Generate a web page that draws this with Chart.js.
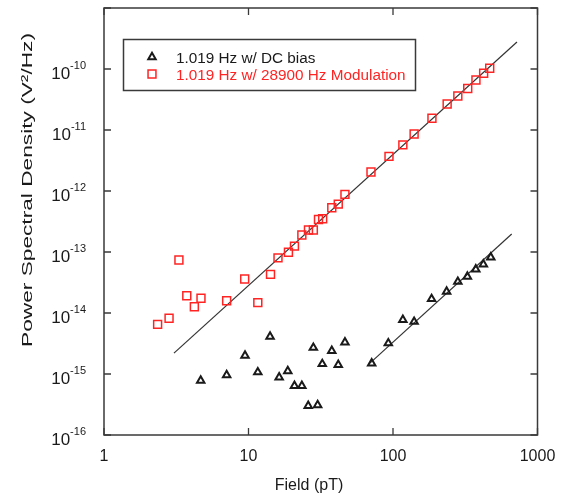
<!DOCTYPE html>
<html>
<head>
<meta charset="utf-8">
<script src="https://cdn.jsdelivr.net/npm/chart.js@4"></script>
<style>
  html, body { margin: 0; padding: 0; background: #fff; }
  #wrap { width: 564px; height: 496px; }
</style>
</head>
<body>
<div id="wrap"><canvas id="psdChart" width="564" height="496"></canvas></div>
<script>
// Field (pT) vs power spectral density (V^2/Hz)
const dcField = [4.67, 7.06, 9.46, 11.6, 14.1, 16.3, 18.7, 20.8, 23.4, 25.9, 28.1, 30.1, 32.4, 37.7, 41.8, 46.5,
  71.2, 92.8, 117, 140, 185, 235, 281, 327, 374, 422, 475];
const dcPsd = [7.8e-16, 9.6e-16, 2.0e-15, 1.07e-15, 4.1e-15, 8.8e-16, 1.12e-15, 6.4e-16, 6.4e-16, 3.0e-16, 2.7e-15, 3.1e-16, 1.46e-15, 2.4e-15, 1.41e-15, 3.3e-15,
  1.5e-15, 3.2e-15, 7.7e-15, 7.2e-15, 1.7e-14, 2.24e-14, 3.26e-14, 3.94e-14, 5.2e-14, 6.3e-14, 8.2e-14];

const modField = [2.35, 2.82, 3.30, 3.74, 4.22, 4.69, 7.06, 9.41, 11.6, 14.2, 16.0, 18.9, 20.8, 23.4, 26.0, 28.1,
  30.5, 32.6, 37.7, 41.8, 46.5, 70.4, 93.8, 117, 140, 186, 237, 281, 329, 375, 424, 467];
const modPsd = [6.5e-15, 8.2e-15, 7.4e-14, 1.92e-14, 1.27e-14, 1.74e-14, 1.59e-14, 3.6e-14, 1.48e-14, 4.3e-14, 8.0e-14, 9.9e-14, 1.25e-13, 1.9e-13, 2.3e-13, 2.3e-13,
  3.4e-13, 3.5e-13, 5.3e-13, 6.1e-13, 8.8e-13, 2.05e-12, 3.7e-12, 5.7e-12, 8.6e-12, 1.56e-11, 2.67e-11, 3.6e-11, 4.8e-11, 6.6e-11, 8.5e-11, 1.03e-10];

// fitted power-law lines (end points)
const modFitField = [3.05, 721];
const modFitPsd = [2.2e-15, 2.77e-10];
const dcFitField = [69.3, 663];
const dcFitPsd = [1.51e-15, 1.97e-13];

// ticks
const xTicks = [1, 10, 100, 1000];
const yTicks = [1e-16, 1e-15, 1e-14, 1e-13, 1e-12, 1e-11, 1e-10, 1e-9];
const yTickExps = ['-16', '-15', '-14', '-13', '-12', '-11', '-10'];

const FONT = '"Liberation Sans", Arial, sans-serif';
const RED = '#ff2424';
const INK = '#1a1a1a';
const FRAME = '#3a3a3a';

const toPts = (xs, ys) => xs.map((x, i) => ({ x: x, y: ys[i] }));

// Frame, inward ticks, tick labels, titles and legend
const decorations = {
  id: 'decorations',
  afterDraw(chart) {
    const ctx = chart.ctx;
    const a = chart.chartArea;
    const xs = chart.scales.x, ys = chart.scales.y;
    ctx.save();
    ctx.strokeStyle = FRAME;
    ctx.lineWidth = 1.5;
    ctx.strokeRect(a.left, a.top, a.right - a.left, a.bottom - a.top);

    // inward ticks on all four sides
    ctx.lineWidth = 1.3;
    ctx.beginPath();
    xTicks.forEach(v => {
      const px = xs.getPixelForValue(v);
      ctx.moveTo(px, a.bottom); ctx.lineTo(px, a.bottom - 7);
      ctx.moveTo(px, a.top); ctx.lineTo(px, a.top + 7);
    });
    yTicks.forEach(v => {
      const py = ys.getPixelForValue(v);
      ctx.moveTo(a.left, py); ctx.lineTo(a.left + 7, py);
      ctx.moveTo(a.right, py); ctx.lineTo(a.right - 7, py);
    });
    ctx.stroke();

    // x tick labels
    ctx.fillStyle = INK;
    ctx.font = '16px ' + FONT;
    ctx.textAlign = 'center';
    ctx.textBaseline = 'alphabetic';
    xTicks.forEach(v => {
      ctx.fillText(String(v), xs.getPixelForValue(v), 461);
    });

    // y tick labels 10^n
    yTickExps.forEach((ex, i) => {
      const py = ys.getPixelForValue(yTicks[i]);
      ctx.font = '11px ' + FONT;
      const we = ctx.measureText(ex).width;
      ctx.textAlign = 'left';
      ctx.fillText(ex, 86 - we, py - 0.5);
      ctx.font = '17px ' + FONT;
      ctx.textAlign = 'right';
      ctx.fillText('10', 86 - we, py + 10);
    });

    // axis titles
    ctx.font = '16px ' + FONT;
    ctx.textAlign = 'center';
    ctx.fillText('Field (pT)', 309, 490);

    ctx.save();
    ctx.translate(32, 190);
    ctx.rotate(-Math.PI / 2);
    ctx.font = '15.5px ' + FONT;
    const title = 'Power Spectral Density (V\u00B2/Hz)';
    const tw = ctx.measureText(title).width;
    ctx.scale(314 / tw, 1);
    ctx.fillText(title, 0, 0);
    ctx.restore();

    // legend
    ctx.strokeStyle = FRAME;
    ctx.lineWidth = 1.5;
    ctx.strokeRect(123.5, 39.5, 292, 51);
    const rows = [chart.data.datasets[0], chart.data.datasets[1]];
    rows.forEach((ds, i) => {
      const cy = i === 0 ? 57 : 74;
      ctx.fillStyle = 'rgba(0,0,0,0)';
      ctx.strokeStyle = ds.borderColor;
      ctx.lineWidth = ds.borderWidth;
      Chart.helpers.drawPoint(ctx, {
        pointStyle: ds.pointStyle, radius: ds.pointRadius, rotation: 0, borderWidth: ds.borderWidth
      }, 152, cy);
      ctx.fillStyle = ds.borderColor === RED ? RED : INK;
      ctx.font = '15.3px ' + FONT;
      ctx.textAlign = 'left';
      ctx.fillText(ds.label, 176, i === 0 ? 62.5 : 79.5);
    });
    ctx.restore();
  }
};

new Chart(document.getElementById('psdChart'), {
  type: 'scatter',
  data: {
    datasets: [
      {
        label: '1.019 Hz w/ DC bias',
        data: toPts(dcField, dcPsd),
        pointStyle: 'triangle',
        pointRadius: 4.3,
        borderColor: INK,
        backgroundColor: 'rgba(0,0,0,0)',
        borderWidth: 2
      },
      {
        label: '1.019 Hz w/ 28900 Hz Modulation',
        data: toPts(modField, modPsd),
        pointStyle: 'rect',
        pointRadius: 5.6,
        borderColor: RED,
        backgroundColor: 'rgba(0,0,0,0)',
        borderWidth: 1.5
      },
      {
        label: 'fit mod',
        data: toPts(modFitField, modFitPsd),
        showLine: true,
        pointRadius: 0,
        borderColor: '#333',
        borderWidth: 1.2
      },
      {
        label: 'fit dc',
        data: toPts(dcFitField, dcFitPsd),
        showLine: true,
        pointRadius: 0,
        borderColor: '#333',
        borderWidth: 1.2
      }
    ]
  },
  options: {
    responsive: false,
    animation: false,
    layout: { padding: { left: 0, right: 26.5, top: 8, bottom: 0 } },
    plugins: { legend: { display: false }, tooltip: { enabled: false } },
    scales: {
      x: {
        type: 'logarithmic',
        min: 1, max: 1000,
        grid: { display: false },
        border: { display: false },
        ticks: { display: false },
        afterBuildTicks: s => { s.ticks = xTicks.map(v => ({ value: v })); },
        afterFit: s => { s.height = 61; }
      },
      y: {
        type: 'logarithmic',
        min: 1e-16, max: 1e-9,
        grid: { display: false },
        border: { display: false },
        ticks: { display: false },
        afterBuildTicks: s => { s.ticks = yTicks.map(v => ({ value: v })); },
        afterFit: s => { s.width = 104; }
      }
    }
  },
  plugins: [decorations]
});
</script>
</body>
</html>
